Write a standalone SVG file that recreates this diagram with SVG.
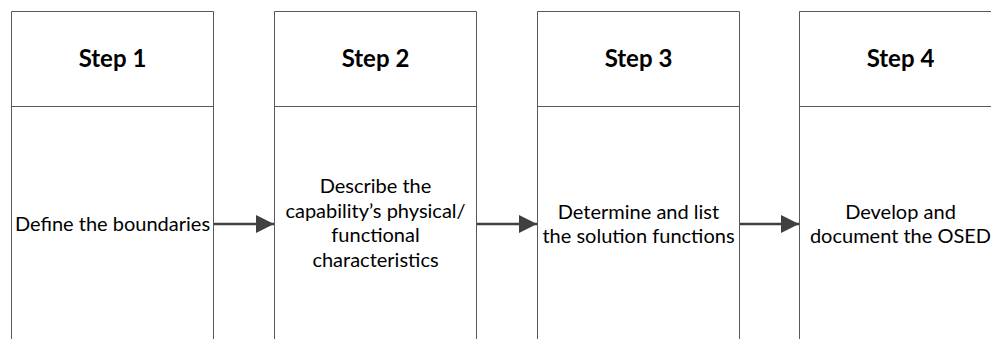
<svg xmlns="http://www.w3.org/2000/svg" width="991" height="339" viewBox="0 0 991 339">
<style>
.box{fill:#ffffff;stroke:#595959;stroke-width:1}
.hd{font-family:Lato,"Open Sans","Liberation Sans",sans-serif;font-weight:bold;font-size:24px;fill:#000;text-anchor:middle}
.tx{font-family:Lato,"Open Sans","Liberation Sans",sans-serif;font-size:20px;fill:#000;text-anchor:middle}
.ar{stroke:#404040;stroke-width:2.5;fill:none}
</style>
<defs>
<marker id="ah" markerUnits="userSpaceOnUse" markerWidth="20" markerHeight="20" refX="18" refY="9" orient="auto">
<path d="M0,0 L18,9 L0,18 Z" fill="#404040"/>
</marker>
</defs>
<rect width="991" height="339" fill="#ffffff"/>
<g id="step1">
<path class="box" d="M11.5,340 V11.5 H213.5 V340 M11.5,106.5 H213.5"/>
<text class="hd" x="112.5" y="67">Step 1</text>
<text class="tx" x="112.5" y="231">Define the boundaries</text>
</g>
<g id="step2">
<path class="box" d="M274.5,340 V11.5 H476.5 V340 M274.5,106.5 H476.5"/>
<text class="hd" x="375.5" y="67">Step 2</text>
<text class="tx" x="375.5" y="193">Describe the</text>
<text class="tx" x="375.5" y="217.5">capability’s physical/</text>
<text class="tx" x="375.5" y="242">functional</text>
<text class="tx" x="375.5" y="266.5">characteristics</text>
</g>
<g id="step3">
<path class="box" d="M537.5,340 V11.5 H739.5 V340 M537.5,106.5 H739.5"/>
<text class="hd" x="638.5" y="67">Step 3</text>
<text class="tx" x="638.5" y="218.5">Determine and list</text>
<text class="tx" x="638.5" y="243">the solution functions</text>
</g>
<g id="step4">
<path class="box" d="M799.5,340 V11.5 H1003.5 V340 M799.5,106.5 H1003.5"/>
<text class="hd" x="900.5" y="67">Step 4</text>
<text class="tx" x="900.5" y="218.5">Develop and</text>
<text class="tx" x="900.5" y="243">document the OSED</text>
</g>
<g id="connectors">
<line class="ar" x1="214" y1="224" x2="274" y2="224" marker-end="url(#ah)"/>
<line class="ar" x1="477" y1="224" x2="537" y2="224" marker-end="url(#ah)"/>
<line class="ar" x1="740" y1="224" x2="799" y2="224" marker-end="url(#ah)"/>
</g>
</svg>
